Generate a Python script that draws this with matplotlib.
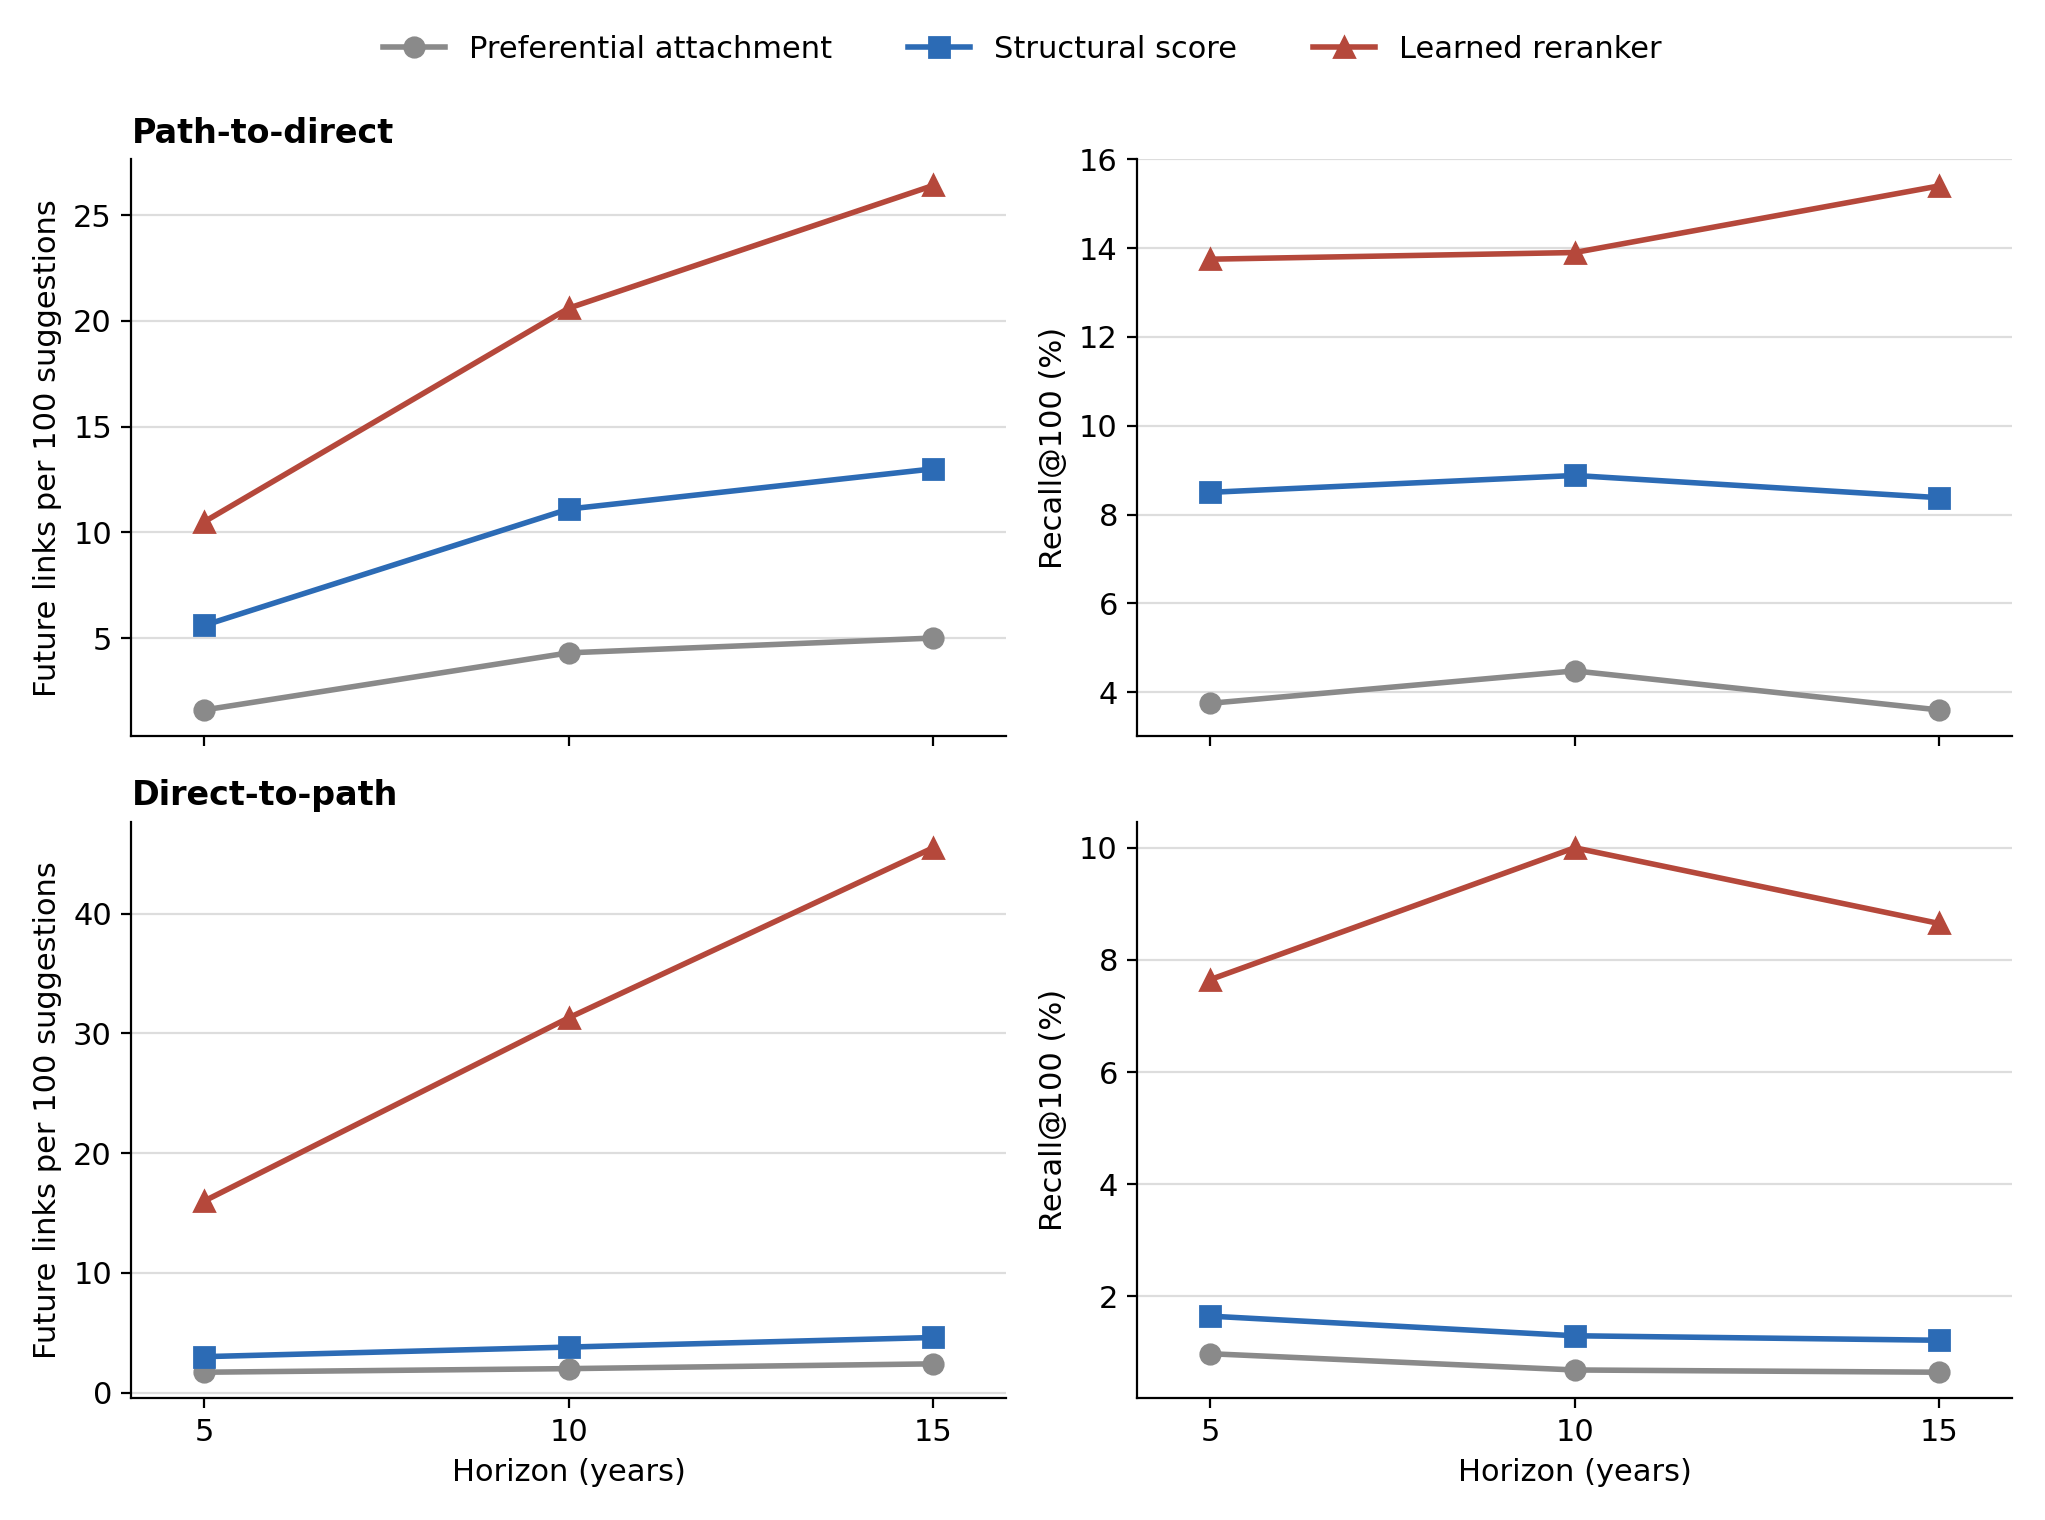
import matplotlib.pyplot as plt

horizons = [5, 10, 15]
methods = ["Preferential attachment", "Structural score", "Learned reranker"]
colors = ["#8a8a8a", "#2c6bb5", "#b5483b"]
markers = ["o", "s", "^"]

# path-to-direct
p2d_links = {
    "Preferential attachment": [1.6, 4.3, 5.0],
    "Structural score": [5.6, 11.1, 13.0],
    "Learned reranker": [10.5, 20.6, 26.4],
}
p2d_recall = {
    "Preferential attachment": [3.75, 4.48, 3.6],
    "Structural score": [8.5, 8.88, 8.38],
    "Learned reranker": [13.75, 13.9, 15.4],
}
# direct-to-path
d2p_links = {
    "Preferential attachment": [1.7, 2.0, 2.4],
    "Structural score": [3.0, 3.8, 4.6],
    "Learned reranker": [16.0, 31.3, 45.5],
}
d2p_recall = {
    "Preferential attachment": [0.98, 0.69, 0.65],
    "Structural score": [1.65, 1.3, 1.22],
    "Learned reranker": [7.65, 10.0, 8.65],
}

plt.rcParams["font.size"] = 11

fig, axes = plt.subplots(2, 2, figsize=(10.225, 7.6), dpi=200, sharex=True)

panels = [
    (axes[0, 0], p2d_links, "Future links per 100 suggestions", "Path-to-direct"),
    (axes[0, 1], p2d_recall, "Recall@100 (%)", None),
    (axes[1, 0], d2p_links, "Future links per 100 suggestions", "Direct-to-path"),
    (axes[1, 1], d2p_recall, "Recall@100 (%)", None),
]

for ax, data, ylabel, title in panels:
    for m, c, mk in zip(methods, colors, markers):
        ax.plot(horizons, data[m], color=c, marker=mk, linewidth=2, markersize=7, label=m)
    ax.set_ylabel(ylabel)
    if title:
        ax.set_title(title, loc="left", fontweight="bold", fontsize=12)
    ax.grid(axis="y", color="#dddddd", linewidth=0.8)
    ax.set_axisbelow(True)
    ax.spines["top"].set_visible(False)
    ax.spines["right"].set_visible(False)
    ax.set_xticks(horizons)
    ax.set_xlim(4, 16)

axes[0, 1].set_yticks([4, 6, 8, 10, 12, 14, 16])
axes[1, 1].set_yticks([2, 4, 6, 8, 10])
axes[1, 0].set_xlabel("Horizon (years)")
axes[1, 1].set_xlabel("Horizon (years)")

handles, labels = axes[0, 0].get_legend_handles_labels()
fig.legend(handles, labels, loc="upper center", ncol=3, frameon=False,
           bbox_to_anchor=(0.5, 0.995), columnspacing=2.5)

plt.tight_layout(rect=(0, 0, 1, 0.945))
plt.savefig("out.png")
